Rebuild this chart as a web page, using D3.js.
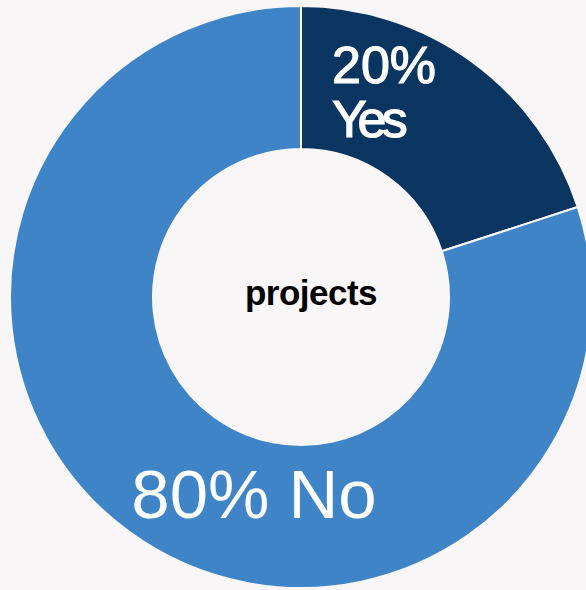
<!DOCTYPE html>
<html>
<head>
<meta charset="utf-8">
<script src="https://cdn.jsdelivr.net/npm/d3@7"></script>
<style>
  html, body { margin: 0; padding: 0; background: #f8f6f6; }
  svg { display: block; }
  text { font-family: "Liberation Sans", Arial, Helvetica, sans-serif; }
</style>
</head>
<body>
<svg id="chart" width="586" height="590"></svg>
<script>
// Share of projects
const categories = ["Yes", "No"];
const values = [20, 80];
const colors = ["#0a3560", "#3e84c6"];

const width = 586, height = 590;
const cx = 301, cy = 297;
const outerR = 291, innerR = 148;

const svg = d3.select("#chart");
svg.append("rect").attr("width", width).attr("height", height).attr("fill", "#f8f6f6");

const g = svg.append("g").attr("transform", `translate(${cx},${cy})`);

const data = categories.map((c, i) => ({ category: c, value: values[i], color: colors[i] }));

const pie = d3.pie().sort(null).value(d => d.value);
const arc = d3.arc().innerRadius(innerR).outerRadius(outerR);

g.selectAll("path.slice")
  .data(pie(data))
  .join("path")
  .attr("class", "slice")
  .attr("d", arc)
  .attr("fill", d => d.data.color)
  .attr("stroke", "#f8f6f6")
  .attr("stroke-width", 2);

// "Yes" label, two lines, slightly heavier than the other label
const yes = data[0];
const yesLabel = g.append("text")
  .attr("fill", "#ffffff")
  .attr("stroke", "#ffffff")
  .attr("stroke-width", 1.2)
  .attr("font-size", 52)
  .attr("text-anchor", "start");
yesLabel.append("tspan").attr("x", 31).attr("y", -214).text(`${yes.value}%`);
yesLabel.append("tspan").attr("x", 31).attr("y", -160).attr("letter-spacing", -4.5).text(yes.category);

// "No" label, one line
const no = data[1];
g.append("text")
  .attr("x", -47)
  .attr("y", 221)
  .attr("fill", "#ffffff")
  .attr("font-size", 69)
  .attr("text-anchor", "middle")
  .text(`${no.value}% ${no.category}`);

// Centre title
g.append("text")
  .attr("x", 10)
  .attr("y", 8)
  .attr("fill", "#000000")
  .attr("font-size", 35)
  .attr("font-weight", "bold")
  .attr("letter-spacing", -0.5)
  .attr("text-anchor", "middle")
  .text("projects");
</script>
</body>
</html>
